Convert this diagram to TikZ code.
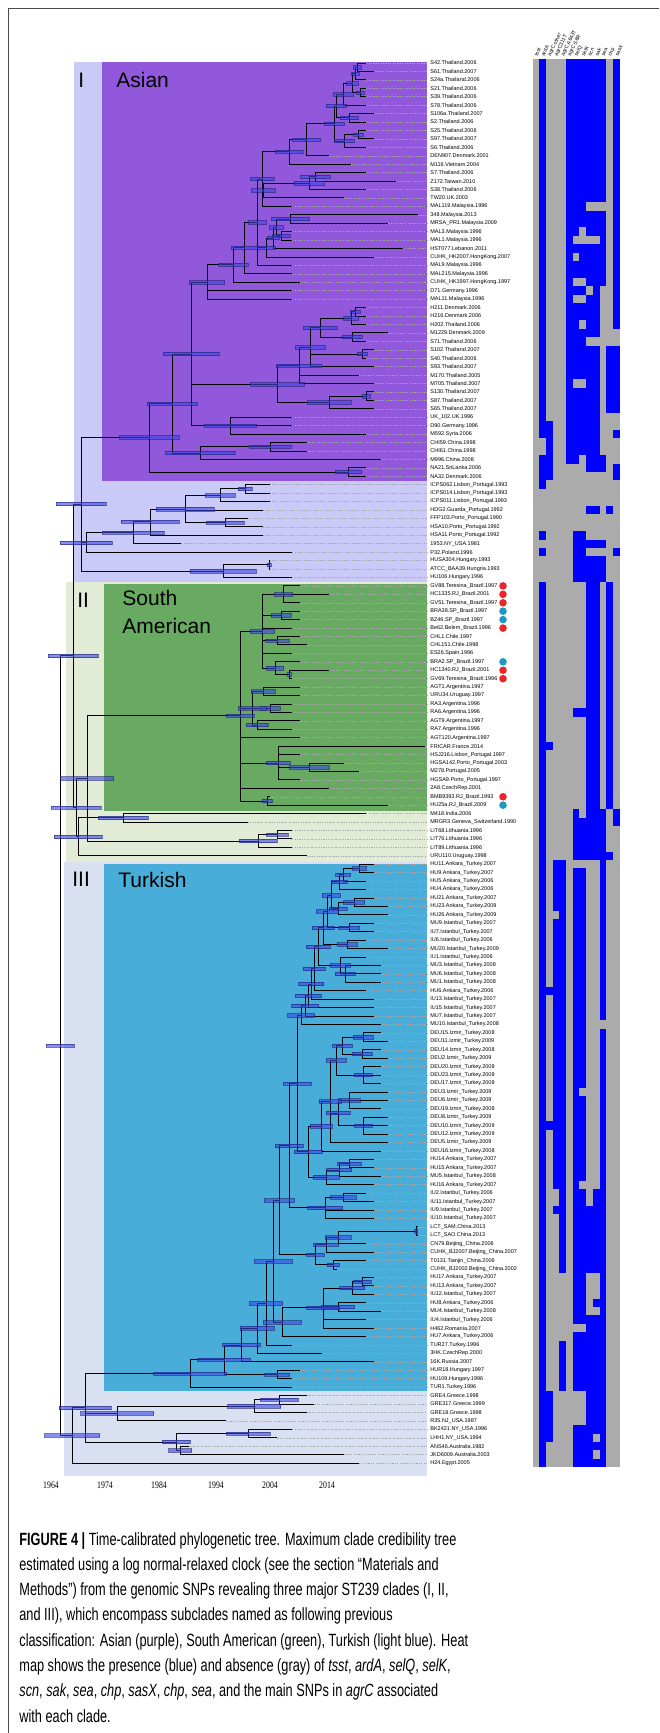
\documentclass[tikz,border=0pt]{standalone}
\usepackage{fontspec}
\setmainfont{Liberation Sans}
\newfontfamily\capfont[FakeStretch=0.72]{Liberation Sans}
\newfontfamily\axisfont{Liberation Serif}
\definecolor{asianpurple}{HTML}{9158DC}
\definecolor{cladeIlight}{HTML}{CACAF8}
\definecolor{samgreen}{HTML}{68AA62}
\definecolor{cladeIIlight}{HTML}{E2EBD6}
\definecolor{turkblue}{HTML}{48AED9}
\definecolor{cladeIIIlight}{HTML}{D8E0F2}
\definecolor{hpdblue}{HTML}{3C46E6}
\definecolor{heatblue}{HTML}{0000FF}
\definecolor{heatgray}{HTML}{ABABAB}
\definecolor{dotred}{HTML}{E8262B}
\definecolor{dotteal}{HTML}{1C9AC2}
\tikzstyle{branch} = [black, line width=0.45pt]
\tikzstyle{hpd} = [fill=hpdblue, fill opacity=.6, draw=hpdblue!50!black, draw opacity=.6, line width=0.3pt]
\tikzstyle{guide} = [gray!70, line width=0.25pt, dash pattern=on 0.6pt off 0.6pt]
\tikzstyle{leaf} = [anchor=west, inner sep=0pt, font=\fontsize{2.75}{3}\selectfont]
\tikzstyle{heathead} = [anchor=west, inner sep=0pt, rotate=64, font=\fontsize{2.6}{3}\selectfont]
\tikzstyle{cladename} = [anchor=base west, inner sep=0pt, font=\fontsize{10.5}{12}\selectfont]
\tikzstyle{caption} = [anchor=base west, inner sep=0pt, font=\capfont\fontsize{8.85}{12.6}\selectfont]
\tikzstyle{yearlabel} = [inner sep=0pt, xscale=.78, font=\axisfont\fontsize{5}{6}\selectfont]
\newcommand{\heatx}{532.5}
\newcommand{\heatw}{6.7}
% internal nodes: name/x/row/hpd width/children
\newcommand{\treenodes}{%
a1/357/1.5/8/{L1,L2}, a2/355/2.25/8/{a1,L3}, a3/360/4.5/8/{L4,L5},
a4/352/3.4/12/{a2,a3}, a5/343/4.7/20/{a4,L6}, a6/349/7.5/18/{L7,L8},
a7/336/6.1/20/{a5,a6}, a8/358/9.5/10/{L9,L10}, a9/344/10.25/20/{a8,L11},
a10/334/8.2/20/{a7,a9}, a11/306/10.1/28/{a10,L12}, a12/289/11.5/28/{a11,L13},
a14/315/14.5/30/{L14,L15}, a15/309/15.25/30/{a14,L16}, a16/263/16.1/24/{a15,L17},
a13/262/14.75/24/{a12,a16,L18}, a17/290/19.5/38/{L19,L20}, a18/281/21.5/18/{L21,L22},
a19/276/20.5/14/{a17,a18}, a20/273/21.75/12/{a19,L23}, a21/266/22.9/18/{a20,L24},
a22/257/19.9/18/{a13,a21,L25}, a23/244/22.9/26/{a22,L26}, a24/233/24.9/30/{a23,L27},
a25/207/27/35/{a24,L28,L29}, b1/355/30.5/10/{L30,L31}, b2/351/31.25/15/{b1,L32},
b3/352/33.5/20/{L33,L34}, b4/320/32.4/34/{b2,b3}, b5/362/35.5/10/{L35,L36},
b6/310/34.7/30/{b4,b5,L37}, b7/299/36.9/45/{b6,L38,L39}, b8/366/40.5/8/{L40,L41},
b9/329/41.25/44/{b8,L42}, b10/277/39.1/54/{b7,b9}, b12/230/44/52/{L43,L44,L45},
a27/191/35.5/56/{a25,b10,b12}, b13/270/46.5/42/{L46,L47}, b14/200/47.25/70/{b13,L48},
a28/172/41.4/50/{a27,b14}, b15/348/49.5/26/{L49,L50}, a29/149/45.4/60/{a28,b15},
c1/245/51.5/14/{L51,L52}, c2/220/52.25/30/{c1,L53}, c4/225/55.5/38/{L55,L56},
c3/185/53.9/58/{c2,L54,c4}, c6/150/55.4/58/{c3,L57}, c7/133/56.7/62/{c6,L58},
c8/86/57.9/52/{c7,L59}, c9/269/60.5/4/{L60,L61}, c10/223/61.25/66/{c9,L62},
c11/81/53.3/50/{a29,c8,c10},
e1/283/64/18/{L63,L64,L65}, e2/281/66.5/20/{L66,L67}, e3/277/69.5/24/{L69,L70},
e4/289/73.5/4/{L73,L74}, e5/275/72.75/17/{L72,e4}, e6/262/68.4/24/{e1,e2,L68,e3,L71,e5},
f1/263/75.5/24/{L75,L76}, f2/270/77.5/20/{L77,L78}, f3/257/79.5/22/{L79,L80},
f4/252/77.5/28/{f1,f2,f3}, g1/309/84.5/40/{L84,L85}, g2/278/84/24/{L82,L83,g1,L86},
g4/267/88.5/10/{L88,L89}, e8/240/78.4/28/{e6,f4,L81,g2,L87,g4},
h3/123/90.5/50/{L90,L91}, h4/277/92.5/22/{L92,L93}, h5/258/93.25/38/{h4,L94},
h1/87/85.8/53/{e8,h5}, h6/78/92.75/48/{h3,L95}, d1/76/89.3/50/{h1,h6},
d0/73/71.3/50/{c11,d1},
z1/359/96.5/14/{L96,L97}, z2/343/97.25/15/{z1,L98}, z3/339/98.1/16/{z2,L99},
z4/354/100.5/21/{L100,L101}, z5/338/101.25/18/{z4,L102}, z6/331/99.7/18/{z3,z5},
z7/349/103.5/21/{L103,L104}, z8/327/101.6/22/{z6,z7}, z9/347/105.5/20/{L105,L106},
z17/323/103.55/22/{z8,z9}, z10/345/109/20/{L108,L109,L110}, z11/340/108/20/{L107,z10},
z18/318/105.8/24/{z17,z11}, z12/314/108.4/22/{z18,L111}, z13/311/110.2/25/{z12,L112},
z14/308/111.6/26/{z13,L113}, z15/305/112.8/27/{z14,L114}, z16/301/113.9/27/{z15,L115},
y1/363/116.5/20/{L116,L117}, y2/362/118.5/20/{L118,L119}, y3/342/117.5/20/{y1,y2},
y4/363/121/18/{L120,L121,L122}, y5/336/119.25/20/{y3,y4}, y6/349/124/22/{L123,L124,L125},
y7/363/127/18/{L126,L127,L128}, y8/338/125.5/24/{y6,y7}, y9/330/124.1/22/{y5,y8,L129},
w3/321/127.05/22/{y9,L130}, x1/349/131.5/24/{L131,L132}, x2/339/132.25/25/{x1,L133},
x3/326/133.1/26/{x2,L134}, x4/308/130.1/28/{w3,x3}, w2/297/122/28/{z16,x4},
x8/343/135.5/26/{L135,L136}, x9/325/136.75/35/{x8,L137,L138}, w1/289/129.4/28/{w2,x9},
v1/416/139.5/3/{L139,L140}, v2/338/140.25/26/{v1,L141}, v3/326/141.1/25/{v2,L142},
v4/333/143.5/12/{L143,L144}, v5/315/142.3/18/{v3,v4}, w0/279/135.85/30/{w1,v5},
u1/362/145.5/18/{L145,L146}, u2/352/146.25/25/{u1,L147}, u3/338/148.5/33/{L148,L149},
u4/323/148.6/33/{u2,u3,L150,L151}, u5/282/150.3/38/{u4,L152}, t9/273/143.1/38/{w0,u5},
t8/266/148.05/33/{t9,L153}, t7/257/151/34/{t8,L154}, t6/241/153/38/{t7,L155},
t1/277/156.5/25/{L156,L157}, t5/224/154.75/53/{t6,t1}, troot/190/156.4/73/{t5,L158},
k6a/279/159.5/38/{L159,L160}, k6/254/160.25/53/{k6a,L161}, k4/117/161.1/73/{k6,L162},
k7/248/163.5/44/{L163,L164}, k8/180/165.5/23/{L165,L166}, k9/176/164.5/28/{k7,k8},
k3/85/160.45/52/{troot,k4,k9}, k1/72/163.7/55/{k3,L167},
root/60/117.5/28/{d0,k1}}

\begin{document}
\begin{tikzpicture}[x=0.5pt,y=-0.5pt]
\useasboundingbox (0,0) rectangle (659,1733);
\draw[gray!60!black, line width=0.5pt] (8,1733) -- (8,9) -- (659,9);

% clade blocks
\fill[cladeIlight] (74,62) rectangle (427,582);
\fill[cladeIIlight] (66,582) rectangle (427,862);
\fill[cladeIIIlight] (64,862) rectangle (427,1476);
\fill[asianpurple] (102,62) rectangle (427,481);
\fill[samgreen] (104,584) rectangle (427,811);
\fill[turkblue] (104,864) rectangle (427,1391);

\node[cladename] (numI) at (78,88) {I};
\node[cladename] (asian) at (116,88) {Asian};
\node[cladename] (numII) at (77,607) {II};
\node[cladename] (south) at (122,605) {South};
\node[cladename] (american) at (122,633) {American};
\node[cladename] (numIII) at (72,886) {III};
\node[cladename] (turkish) at (118,887) {Turkish};

\begin{scope}[x=0.5pt, y=-4.217pt, yshift=-27.283pt]
	% leaves
	\foreach \r/\lab/\yr in {
		1/S42.Thailand/2006, 2/S61.Thailand/2007, 3/S24a.Thailand/2006, 4/S21.Thailand/2006,
		5/S39.Thailand/2006, 6/S78.Thailand/2006, 7/S106a.Thailand/2007, 8/S2.Thailand/2006,
		9/S25.Thailand/2006, 10/S97.Thailand/2007, 11/S6.Thailand/2006, 12/DEN907.Denmark/2001,
		13/M116.Vietnam/2004, 14/S7.Thailand/2006, 15/Z172.Taiwan/2010, 16/S38.Thailand/2006,
		17/TW20.UK/2003, 18/MAL119.Malaysia/1996, 19/348.Malaysia/2013, 20/MRSA\_PR1.Malaysia/2009,
		21/MAL3.Malaysia/1996, 22/MAL1.Malaysia/1996, 23/HST077.Lebanon/2011,
		24/CUHK\_HK2007.HongKong/2007, 25/MAL9.Malaysia/1996, 26/MAL215.Malaysia/1996,
		27/CUHK\_HK1997.HongKong/1997, 28/D71.Germany/1996, 29/MAL11.Malaysia/1996,
		30/H211.Denmark/2006, 31/H216.Denmark/2006, 32/H202.Thailand/2006, 33/M1229.Denmark/2009,
		34/S71.Thailand/2006, 35/S102.Thailand/2007, 36/S40.Thailand/2006, 37/S93.Thailand/2007,
		38/M170.Thailand/2005, 39/M705.Thailand/2007, 40/S130.Thailand/2007, 41/S87.Thailand/2007,
		42/S65.Thailand/2007, 43/UK\_102.UK/1996, 44/D90.Germany/1996, 45/M592.Syria/2006,
		46/CHI59.China/1998, 47/CHI61.China/1998, 48/M996.China/2008, 49/NA21.SriLanka/2006,
		50/NA32.Denmark/2006, 51/ICPS062.Lisbon\_Portugal/1993, 52/ICPS014.Lisbon\_Portugal/1993,
		53/ICPS011.Lisbon\_Portugal/1993, 54/HDG2.Guarda\_Portugal/1992, 55/FFP103.Porto\_Portugal/1990,
		56/HSA10.Porto\_Portugal/1992, 57/HSA11.Porto\_Portugal/1992, 58/1953.NY\_USA/1981,
		59/P32.Poland/1996, 60/HUSA304.Hungary/1993, 61/ATCC\_BAA39.Hungria/1993, 62/HU106.Hungary/1996,
		63/GV88.Teresina\_Brazil/1997, 64/HC1335.RJ\_Brazil/2001, 65/GV51.Teresina\_Brazil/1997,
		66/BRA38.SP\_Brazil/1997, 67/BZ46.SP\_Brazil/1997, 68/Be62.Belem\_Brazil/1996,
		69/CHL1.Chile/1997, 70/CHL151.Chile/1998, 71/ES26.Spain/1996, 72/BRA2.SP\_Brazil/1997,
		73/HC1340.RJ\_Brazil/2001, 74/GV69.Teresina\_Brazil/1996, 75/AGT1.Argentina/1997,
		76/URU34.Uruguay/1997, 77/RA3.Argentina/1996, 78/RA6.Argentina/1996, 79/AGT9.Argentina/1997,
		80/RA7.Argentina/1996, 81/AGT120.Argentina/1997, 82/FRICAR.France/2014,
		83/HSJ216.Lisbon\_Portugal/1997, 84/HGSA142.Porto\_Portugal/2003, 85/M278.Portugal/2005,
		86/HGSA9.Porto\_Portugal/1997, 87/2A8.CzechRep/2001, 88/BMB9393.RJ\_Brazil/1993,
		89/HU25a.RJ\_Brazil/2009, 90/M418.India/2006, 91/MRGR3.Geneva\_Switzerland/1990,
		92/LIT68.Lithuania/1996, 93/LIT76.Lithuania/1996, 94/LIT89.Lithuania/1996, 95/URU110.Uruguay/1998,
		96/HU11.Ankara\_Turkey/2007, 97/HU9.Ankara\_Turkey/2007, 98/HU5.Ankara\_Turkey/2006,
		99/HU4.Ankara\_Turkey/2006, 100/HU21.Ankara\_Turkey/2007, 101/HU23.Ankara\_Turkey/2009,
		102/HU26.Ankara\_Turkey/2009, 103/MU9.Istanbul\_Turkey/2007, 104/IU7.Istanbul\_Turkey/2007,
		105/IU6.Istanbul\_Turkey/2006, 106/MU20.Istanbul\_Turkey/2009, 107/IU1.Istanbul\_Turkey/2006,
		108/MU3.Istanbul\_Turkey/2008, 109/MU6.Istanbul\_Turkey/2008, 110/MU1.Istanbul\_Turkey/2008,
		111/HU6.Ankara\_Turkey/2006, 112/IU13.Istanbul\_Turkey/2007, 113/IU15.Istanbul\_Turkey/2007,
		114/MU7.Istanbul\_Turkey/2007, 115/MU10.Istanbul\_Turkey/2008, 116/DEU15.Izmir\_Turkey/2008,
		117/DEU11.Izmir\_Turkey/2009, 118/DEU14.Izmir\_Turkey/2008, 119/DEU2.Izmir\_Turkey/2009,
		120/DEU20.Izmir\_Turkey/2008, 121/DEU23.Izmir\_Turkey/2008, 122/DEU17.Izmir\_Turkey/2008,
		123/DEU3.Izmir\_Turkey/2009, 124/DEU6.Izmir\_Turkey/2009, 125/DEU19.Izmir\_Turkey/2008,
		126/DEU8.Izmir\_Turkey/2009, 127/DEU10.Izmir\_Turkey/2009, 128/DEU12.Izmir\_Turkey/2009,
		129/DEU5.Izmir\_Turkey/2009, 130/DEU16.Izmir\_Turkey/2008, 131/HU14.Ankara\_Turkey/2007,
		132/HU15.Ankara\_Turkey/2007, 133/MU5.Istanbul\_Turkey/2008, 134/HU16.Ankara\_Turkey/2007,
		135/IU2.Istanbul\_Turkey/2006, 136/IU11.Istanbul\_Turkey/2007, 137/IU9.Istanbul\_Turkey/2007,
		138/IU10.Istanbul\_Turkey/2007, 139/LCT\_SAM.China/2013, 140/LCT\_SAO.China/2013,
		141/CN79.Beijing\_China/2006, 142/CUHK\_BJ2007.Beijing\_China/2007, 143/T0131.Tianjin\_China/2006,
		144/CUHK\_BJ2002.Beijing\_China/2002, 145/HU17.Ankara\_Turkey/2007, 146/HU13.Ankara\_Turkey/2007,
		147/IU12.Istanbul\_Turkey/2007, 148/HU8.Ankara\_Turkey/2006, 149/MU4.Istanbul\_Turkey/2008,
		150/IU4.Istanbul\_Turkey/2006, 151/H462.Romania/2007, 152/HU7.Ankara\_Turkey/2006,
		153/TUR27.Turkey/1996, 154/3HK.CzechRep/2000, 155/16K.Russia/2007, 156/HUR18.Hungary/1997,
		157/HU109.Hungary/1996, 158/TUR1.Turkey/1996, 159/GRE4.Greece/1998, 160/GRE317.Greece/1999,
		161/GRE18.Greece/1998, 162/R35.NJ\_USA/1987, 163/BK2421.NY\_USA/1996, 164/LHH1.NY\_USA/1994,
		165/ANS46.Australia/1982, 166/JKD6009.Australia/2003, 167/H24.Egypt/2005}{
		\coordinate (L\r) at ({418-(2013-\yr)*7.4},\r);
		\draw[guide] (L\r) -- (427,\r);
		\node[leaf] (T\r) at (430,\r) {\lab.\yr};
	}

	% tree
	\foreach \n/\x/\y/\w/\kids in \treenodes {
		\coordinate (\n) at (\x,\y);
	}
	\foreach \n/\x/\y/\w/\kids in \treenodes {
		\foreach \c in \kids {
			\draw[branch] (\n) |- (\c);
		}
	}
	\foreach \n/\x/\y/\w/\kids in \treenodes {
		\draw[hpd] ({\x-\w/2},{\y-0.2}) rectangle ({\x+\w/2},{\y+0.2});
	}

	% agr markers
	\foreach \r in {63,64,65,68,73,74,88}
		\fill[dotred] (503,\r) circle (1.9pt);
	\foreach \r in {66,67,72,89}
		\fill[dotteal] (503,\r) circle (1.9pt);

	% heat map
	\fill[heatgray] (\heatx,0.5) rectangle ({\heatx+13*\heatw},167.5);
	\foreach \ca/\cb/\ra/\rb in {
		2/2/1/43, 2/3/44/45, 3/3/46/47, 2/3/48/50,
		13/13/1/32, 12/13/35/42, 13/13/45/45, 13/13/49/50,
		6/11/1/17, 6/8/18/18, 6/11/19/20, 6/7/21/21, 9/11/21/21, 6/6/22/22, 11/11/22/22,
		6/11/23/23, 6/6/24/24, 8/11/24/24, 6/11/25/26, 6/6/27/27, 9/11/27/27, 6/8/28/28,
		10/10/28/28, 6/6/29/29, 9/10/29/29, 6/10/30/31, 6/7/32/32, 9/10/32/32, 6/10/33/33,
		6/8/34/34, 6/10/35/38, 6/6/39/39, 9/10/39/39, 6/10/40/47, 6/7/48/48, 9/11/48/49,
		2/2/51/51, 2/2/57/57, 2/2/59/59, 9/10/54/54, 12/12/54/54, 7/8/57/57, 7/11/58/58,
		7/8/59/59, 13/13/59/59, 7/11/60/62,
		2/2/63/167, 9/10/63/89, 12/12/63/89, 7/8/78/78, 3/3/82/82,
		7/7/90/90, 9/11/90/90, 7/11/91/95, 13/13/90/91, 12/12/95/95,
		4/5/96/101, 5/5/102/102, 4/5/103/134, 3/3/111/111, 3/3/127/127, 5/5/135/144,
		4/4/137/137, 5/5/153/158,
		7/8/97/122, 7/7/123/123, 7/8/124/133, 7/7/134/134, 7/8/135/150, 7/8/152/158, 7/8/163/167,
		11/11/96/114, 11/11/116/167,
		10/10/135/136, 9/10/137/144, 10/10/148/148, 9/9/150/167, 10/10/150/163,
		10/10/165/165, 10/10/167/167, 3/3/159/164}
		\fill[heatblue] ({\heatx+(\ca-1)*\heatw},{\ra-0.5}) rectangle ({\heatx+\cb*\heatw},{\rb+0.5});

	\foreach \c/\lab in {1/tsst, 2/ardA, 3/agrC other, 4/agrC311T, 5/agrC A643T, 6/agrC S6R,
		7/selQ, 8/selK, 9/scn, 10/sak, 11/sea, 12/chp, 13/sasX}
		\node[heathead] (H\c) at ({\heatx+(\c-0.5)*\heatw},0.2) {\lab};
\end{scope}

% time axis
\foreach \yx/\yl in {51/1964, 105/1974, 159/1984, 216/1994, 270/2004, 327/2014}
	\node[yearlabel] (Y\yl) at (\yx,1485) {\yl};

% caption
\node[caption] (cap1) at (19,1545) {{\bfseries FIGURE 4 |} Time-calibrated phylogenetic tree. Maximum clade credibility tree};
\node[caption] (cap2) at (19,1570.3) {estimated using a log normal-relaxed clock (see the section “Materials and};
\node[caption] (cap3) at (19,1595.6) {Methods”) from the genomic SNPs revealing three major ST239 clades (I, II,};
\node[caption] (cap4) at (19,1620.9) {and III), which encompass subclades named as following previous};
\node[caption] (cap5) at (19,1646.2) {classification: Asian (purple), South American (green), Turkish (light blue). Heat};
\node[caption] (cap6) at (19,1671.5) {map shows the presence (blue) and absence (gray) of \textit{tsst}, \textit{ardA}, \textit{selQ}, \textit{selK},};
\node[caption] (cap7) at (19,1696.8) {\textit{scn}, \textit{sak}, \textit{sea}, \textit{chp}, \textit{sasX}, \textit{chp}, \textit{sea}, and the main SNPs in \textit{agrC} associated};
\node[caption] (cap8) at (19,1722.1) {with each clade.};
\end{tikzpicture}
\end{document}
